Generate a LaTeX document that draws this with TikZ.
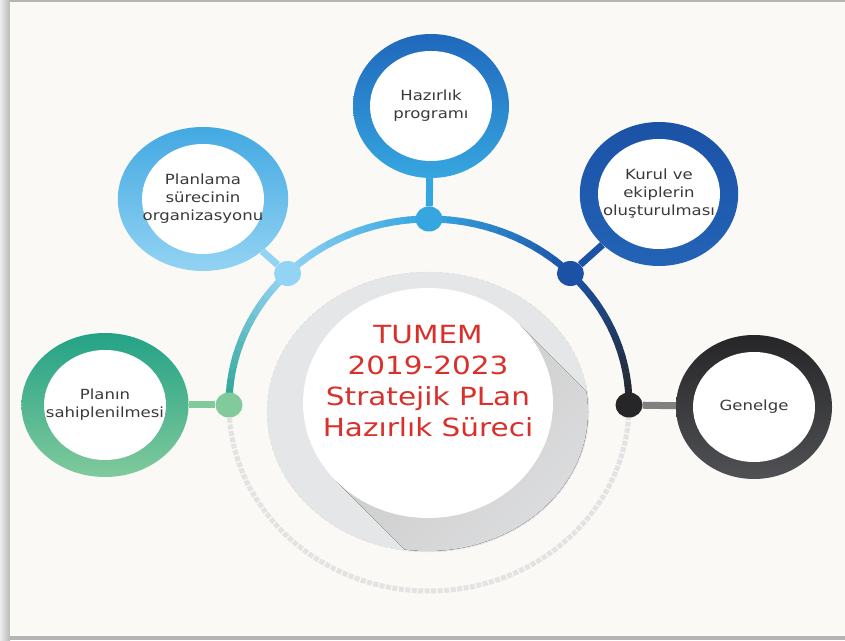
\documentclass[tikz,border=0pt]{standalone}
\usepackage{fontspec}
\setmainfont{DejaVu Sans}
\newfontfamily\handfont[FakeStretch=1.18]{DejaVu Sans}
\usetikzlibrary{shapes.geometric}

\definecolor{paper}{HTML}{FAF9F6}
\definecolor{frame}{HTML}{B4B4B4}
\definecolor{labelgray}{HTML}{3A3A3A}
\definecolor{titlered}{HTML}{D9302C}
\definecolor{diskgray}{HTML}{E5E6E8}
\definecolor{tealarc}{HTML}{2AA593}
\definecolor{greenA}{HTML}{24A286}
\definecolor{greenB}{HTML}{80CA9C}
\definecolor{skyA}{HTML}{43A9E2}
\definecolor{skyB}{HTML}{93D3F3}
\definecolor{blueA}{HTML}{1F68BC}
\definecolor{blueB}{HTML}{36A6E0}
\definecolor{navyA}{HTML}{1B52A6}
\definecolor{navyB}{HTML}{2363B6}
\definecolor{darkA}{HTML}{262628}
\definecolor{darkB}{HTML}{505154}

\pgfdeclarelayer{back}
\pgfdeclarelayer{lines}
\pgfsetlayers{back,lines,main}

\tikzstyle{ring} = [ellipse, minimum width=156pt, minimum height=144pt, inner sep=0pt, align=center, text=labelgray, font=\handfont\fontsize{14}{18}\selectfont, shading angle=45, path picture={\fill[white] (path picture bounding box.center) ellipse [x radius=61pt, y radius=55pt];}]
\tikzstyle{dot} = [ellipse, minimum width=27pt, minimum height=25pt, inner sep=0pt]
\tikzstyle{stub} = [line width=7pt]
\tikzstyle{track} = [line width=7pt, line cap=round]
\tikzstyle{lowtrack} = [line width=5pt, draw=gray!22, dash pattern=on 5pt off 1.5pt]

\begin{document}
\begin{tikzpicture}[x=1pt, y=1pt]
    % page
    \begin{pgfonlayer}{back}
        \fill[frame] (0,0) rectangle (845,640);
        \shade[left color=gray!15, right color=gray!55] (0,0) rectangle (10,640);
        \fill[paper] (10,4) rectangle (845,638);
    \end{pgfonlayer}
    \useasboundingbox (0,0) rectangle (845,640);

    % centre plate
    \coordinate (C) at (429,235);
    \node[ellipse, fill=diskgray, draw=gray!30, dashed, minimum width=322pt, minimum height=280pt] (plate) at (428,228) {};
    \begin{scope}
        \clip (428,228) ellipse [x radius=160pt, y radius=139pt];
        \fill[top color=gray!42, bottom color=diskgray, shading angle=45] (520,315) -- (680,155) -- (496,-1) -- (336,159) -- cycle;
    \end{scope}
    \node[ellipse, fill=white, minimum width=250pt, minimum height=230pt] (core) at (428,237) {};
    \node[text=titlered, align=center, font=\handfont\fontsize{25}{31}\selectfont] (title) at (428,259) {TUMEM\\2019-2023\\Stratejik PLan\\Hazırlık Süreci};

    % joints on the arc
    \node[dot, fill=greenB] (dl) at (229,235) {};
    \node[dot, fill=skyB] (dul) at (287.6,366.5) {};
    \node[dot, fill=blueB] (dt) at (429,421) {};
    \node[dot, fill=navyA] (dur) at (570.4,366.5) {};
    \node[dot, fill=darkA] (dr) at (629,235) {};

    % steps
    \node[ring, top color=greenA, bottom color=greenB] (plan) at (105,235) {Planın\\sahiplenilmesi};
    \node[ring, top color=skyA, bottom color=skyB] (org) at (203,441) {Planlama\\sürecinin\\organizasyonu};
    \node[ring, top color=blueA, bottom color=blueB] (prog) at (431,534) {Hazırlık\\programı};
    \node[ring, top color=navyA, bottom color=navyB] (kurul) at (659,446) {Kurul ve\\ekiplerin\\oluşturulması};
    \node[ring, top color=darkA, bottom color=darkB] (genelge) at (754,233) {Genelge};

    \draw[stub, greenB] (plan) -- (dl);
    \draw[stub, skyB] (org) -- (dul);
    \draw[stub, blueB] (prog) -- (dt);
    \draw[stub, navyA] (kurul) -- (dur);
    \draw[stub, gray] (genelge) -- (dr);

    \begin{pgfonlayer}{lines}
        \draw[lowtrack] (dl.center) arc[start angle=180, end angle=360, x radius=200pt, y radius=186pt];
        \foreach \sa/\cA/\cB in {180/tealarc/skyB, 135/skyB/blueB, 90/blueB/navyA, 45/navyA/darkA}
            \foreach \i in {0,...,14} {
                \pgfmathsetmacro{\a}{\sa-3*\i}
                \pgfmathtruncatemacro{\p}{100*\i/14}
                \draw[track, draw=\cB!\p!\cA] ([shift={(\a:200 and 186)}]C) arc[start angle=\a, end angle=\a-3, x radius=200pt, y radius=186pt];
            }
    \end{pgfonlayer}
\end{tikzpicture}
\end{document}
